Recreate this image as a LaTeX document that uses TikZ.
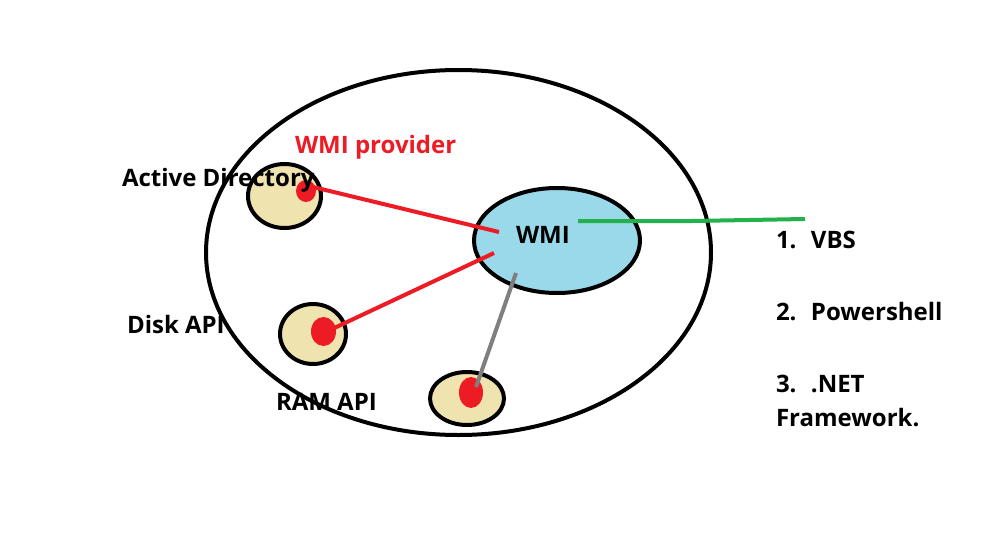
\documentclass[tikz,border=0pt]{standalone}
\usepackage{fontspec}
\setmainfont{Open Sans}
\usetikzlibrary{shapes.geometric}
\definecolor{tan}{HTML}{EFE4B0}
\definecolor{skyblue}{HTML}{99D9EA}
\definecolor{paintred}{HTML}{ED1C24}
\definecolor{paintgreen}{HTML}{22B14C}
\definecolor{paintgray}{HTML}{7F7F7F}
\begin{document}
\begin{tikzpicture}[x=1pt, y=-1pt, line width=4pt,
	blob/.style={ellipse, draw, inner sep=0pt},
	api node/.style={blob, fill=tan},
	dot/.style={ellipse, fill=paintred, inner sep=0pt},
	label text/.style={anchor=base west, inner sep=0pt, font=\bfseries\fontsize{24}{28}\selectfont}]
	\useasboundingbox (0,0) rectangle (986,538);
	\node[blob, minimum width=505pt, minimum height=365pt] (system) at (458.5,252.5) {};
	\node[blob, fill=skyblue, minimum width=166pt, minimum height=105pt] (wmi) at (557,240.5) {};
	\node[api node, minimum width=73pt, minimum height=64pt] (ad) at (284.5,196) {};
	\node[api node, minimum width=66pt, minimum height=60pt] (disk) at (313,334) {};
	\node[api node, minimum width=74pt, minimum height=53pt] (ram) at (467,398.5) {};
	\node[dot, minimum width=20pt, minimum height=22pt] (ad dot) at (306,191) {};
	\node[dot, minimum width=25pt, minimum height=29pt] (disk dot) at (323.5,331.5) {};
	\node[dot, minimum width=24pt, minimum height=31pt] (ram dot) at (471,392.5) {};
	\coordinate (ad end) at (313,187);
	\coordinate (disk end) at (330,330);
	\coordinate (ram end) at (476,387);
	\coordinate (wmi a) at (499,232);
	\coordinate (wmi b) at (494,253);
	\coordinate (wmi c) at (516,273);
	\coordinate (wmi d) at (578,221);
	\coordinate (kink) at (692,221);
	\coordinate (out) at (805,219);
	\draw[paintred] (ad end) -- (wmi a);
	\draw[paintred] (disk end) -- (wmi b);
	\draw[paintgray] (wmi c) -- (ram end);
	\draw[paintgreen] (wmi d) -- (kink) -- (out);
	\node[label text, text=paintred] (provider) at (293,153) {WMI provider};
	\node[label text] (ad label) at (120,186) {Active Directory};
	\node[label text] (disk label) at (125,333) {Disk API};
	\node[label text] (ram label) at (274,410) {RAM API};
	\node[label text] (wmi label) at (514,243) {WMI};
	\node[label text] (vbs) at (774,248) {1.\hspace{0.6em}VBS};
	\node[label text] (ps) at (774,320) {2.\hspace{0.6em}Powershell};
	\node[label text] (net) at (774,392) {3.\hspace{0.6em}.NET};
	\node[label text] (fw) at (774,426) {Framework.};
\end{tikzpicture}
\end{document}
